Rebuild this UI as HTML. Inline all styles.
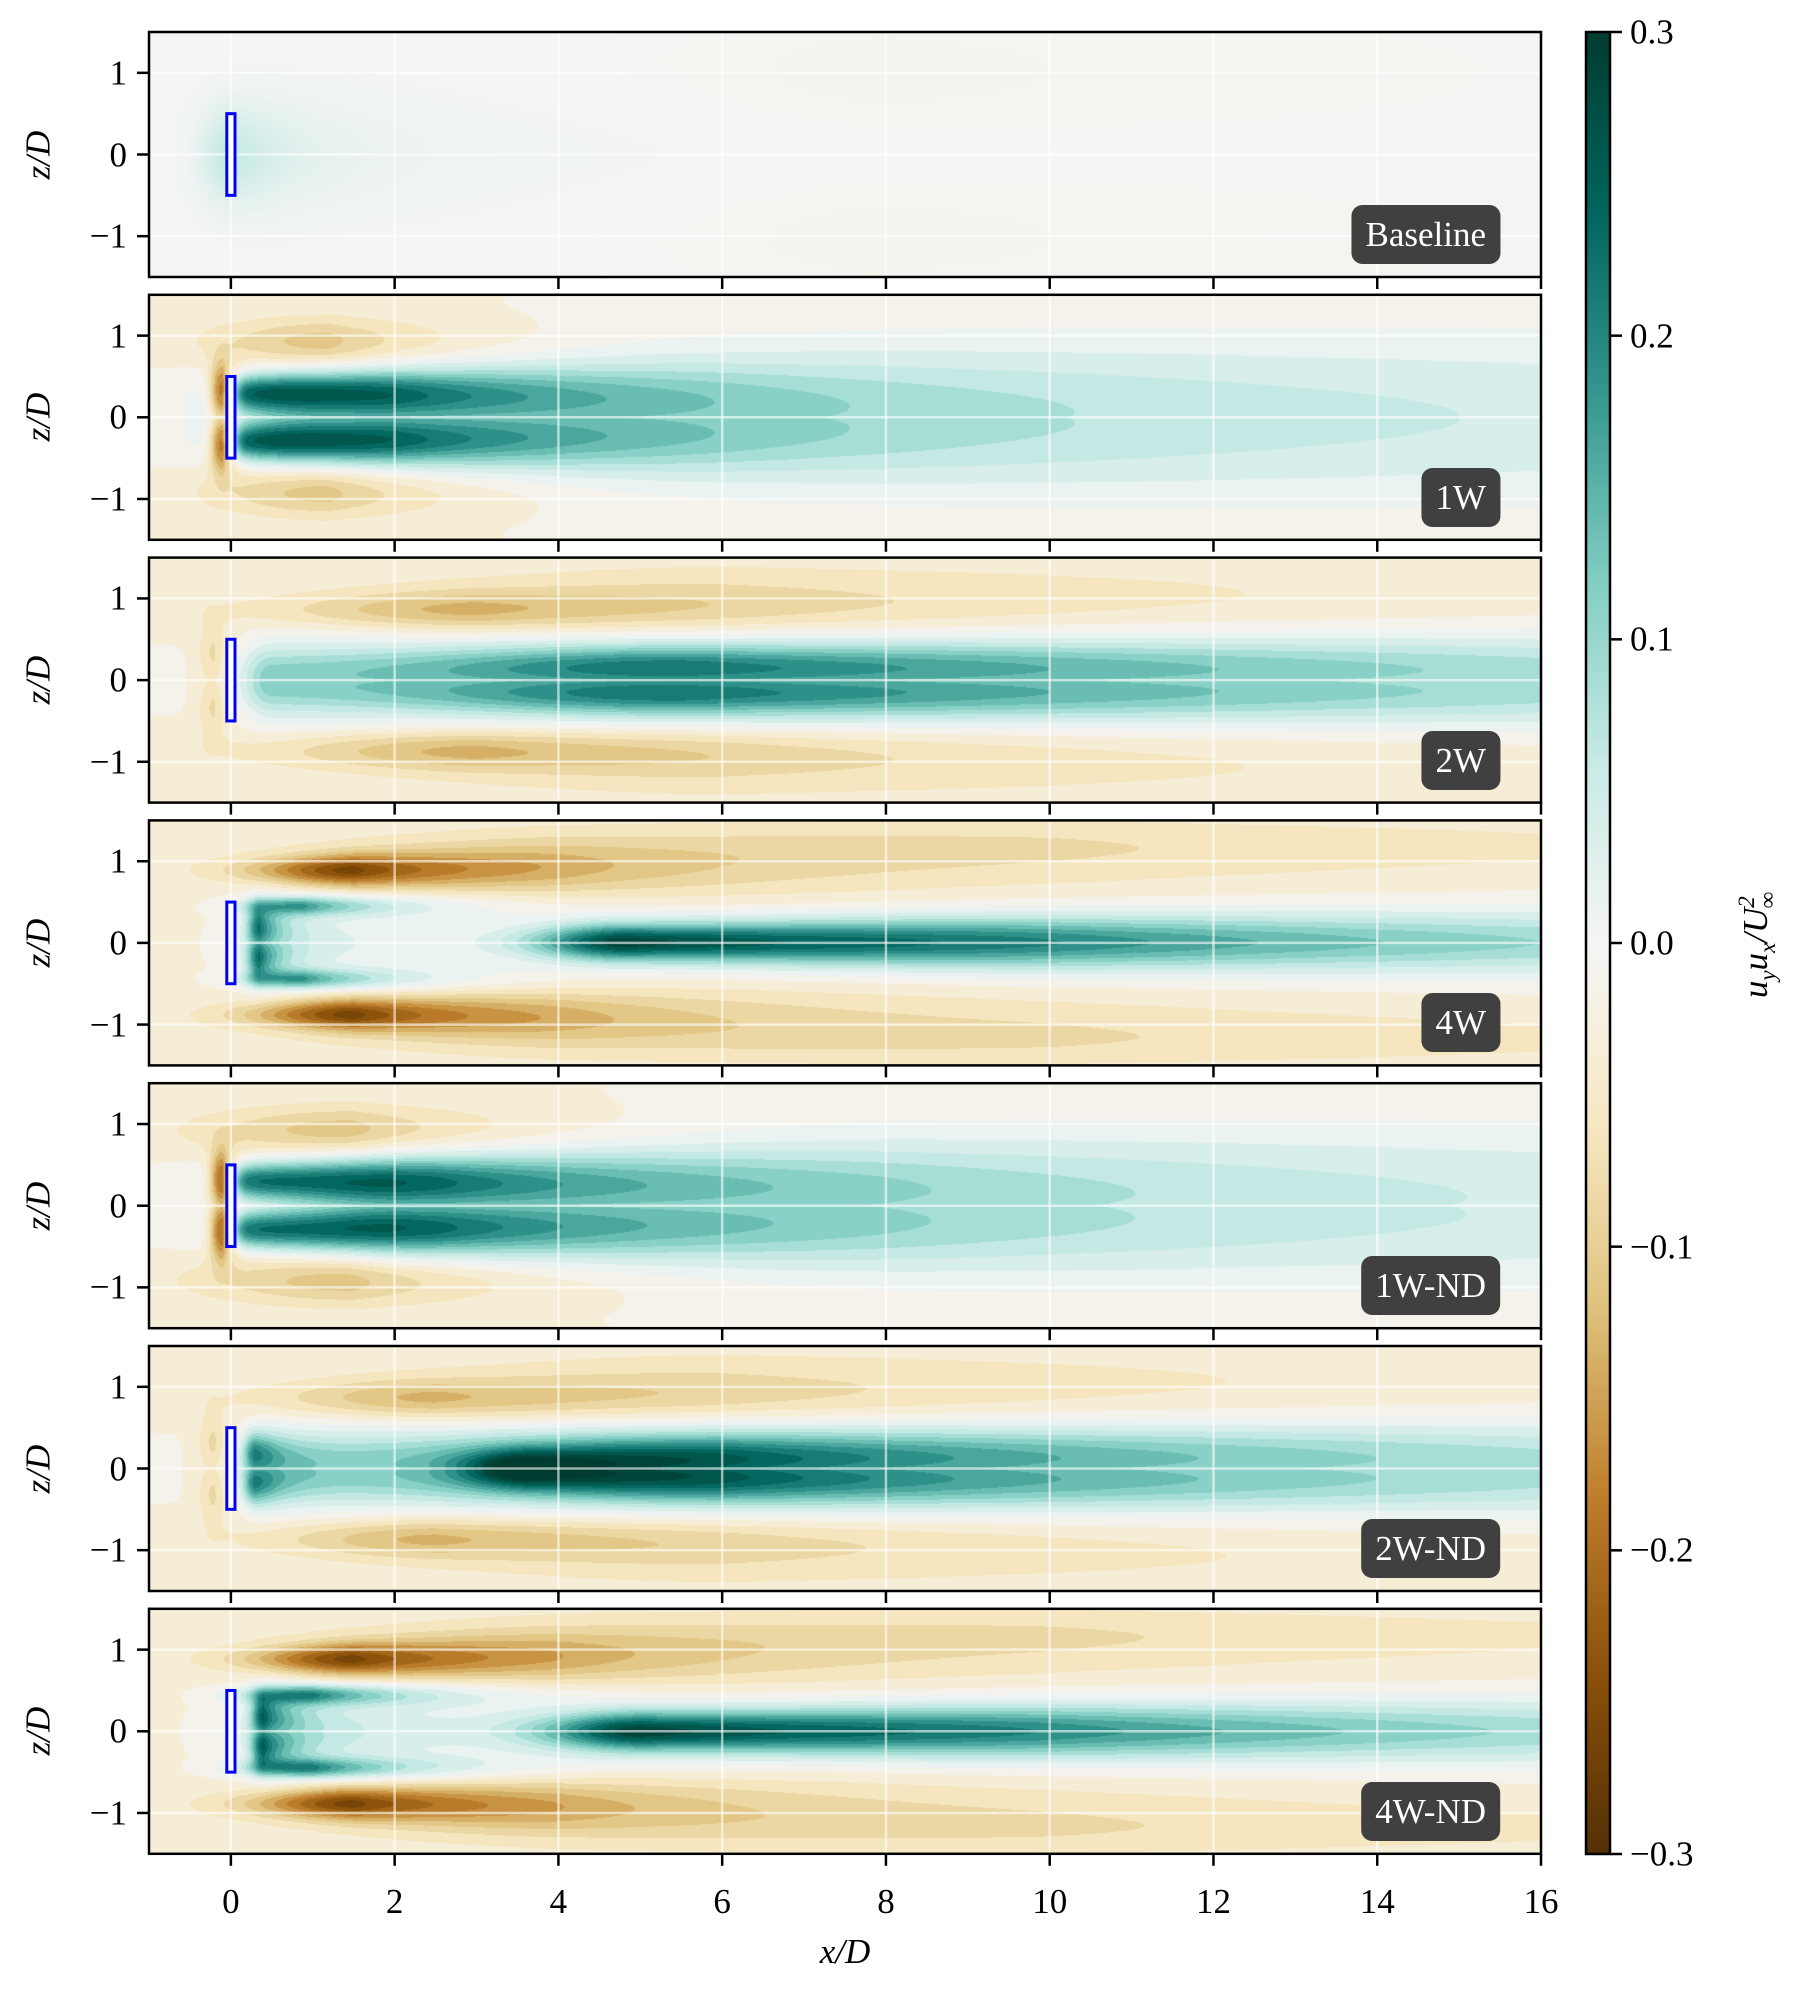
<!DOCTYPE html>
<html><head><meta charset="utf-8">
<style>
body{margin:0;background:#fff;}
#root{position:relative;width:1793px;height:1989px;font-family:"Liberation Serif","DejaVu Serif",serif;color:#000;}
.t{position:absolute;font-size:35px;line-height:1;white-space:nowrap;}
</style></head>
<body>
<div id="root">
<svg id="svg" width="1793" height="1989" style="position:absolute;left:0;top:0"></svg>
</div>
<script>
// ---- data ----
const caseNames = ["Baseline","1W","2W","4W","1W-ND","2W-ND","4W-ND"];
const xTicks = [0,2,4,6,8,10,12,14,16];
const zTicks = [1,0,-1];
const cbTicks = [0.3,0.2,0.1,0.0,-0.1,-0.2,-0.3];
const backgroundLevel = [0.0,-0.03,-0.025,-0.03,-0.03,-0.025,-0.03];
// components per case: [amplitude, zCenter, width0, widthGrowth, xPeak, riseLength, decayLength]
const compBaseline = [[0.06,0,0.55,0.0,0.0,0.35,0.6],[0.012,0,0.9,0.03,0.5,0.8,6],[-0.01,0.9,0.6,0.05,8,4,10]];
const comp1W = [[0.22,0.3,0.22,0.02,0.2,0.25,2.2],[0.08,0.3,0.25,0.02,2,1.5,3],[0.1,0,0.55,0.035,1,1.2,12],[0.06,0,1.0,0.01,6,5,40],[-0.1,0.9,0.3,0.01,1.2,1.4,1.8],[-0.25,0.3,0.35,0,-0.1,0.15,0.15]];
const comp2W = [[0.15,0.18,0.2,0.01,5.5,3,10],[0.14,0,0.45,0.01,0.5,0.4,20],[-0.1,0.85,0.22,0.01,3,2.5,4],[-0.04,1.1,0.35,0.01,6,4,10],[-0.06,0.3,0.4,0,-0.2,0.2,0.2]];
const comp4W = [[0.28,0,0.17,0.012,4.8,1.1,7],[0.1,0,0.3,0.01,10,5,20],[0.18,0.45,0.1,0.02,0.9,0.7,1.2],[0.08,0,0.45,0,0.5,0.5,2],[0.2,0.2,0.28,0,0.35,0.15,0.25],[-0.2,0.88,0.15,0.03,1.5,1.2,1.6],[-0.07,0.95,0.3,0.02,4,3,6],[-0.03,1.2,0.3,0,10,6,10]];
const comp1WND = [[0.22,0.3,0.22,0.02,0.2,0.25,2.2],[0.08,0.3,0.25,0.02,2.5,2,4],[0.1,0.15,0.5,0.02,2,1.5,10],[0.06,0,1.0,0.01,8,6,40],[-0.1,0.9,0.3,0.01,1.5,1.8,2.2],[-0.25,0.3,0.35,0,-0.1,0.15,0.15]];
const comp2WND = [[0.22,0,0.15,0.02,3.6,0.8,2],[0.14,0.18,0.22,0.01,6,3,9],[0.14,0,0.45,0.01,0.5,0.4,20],[0.15,0.2,0.25,0,0.3,0.15,0.3],[-0.1,0.85,0.22,0.01,2.5,2,4],[-0.04,1.1,0.35,0.01,6,4,10],[-0.06,0.3,0.4,0,-0.2,0.2,0.2]];
const comp4WND = [[0.27,0,0.18,0.012,5,1.2,6.5],[0.1,0,0.3,0.01,10,5,20],[0.2,0.45,0.1,0.02,1.0,0.8,1.4],[0.1,0,0.45,0,0.8,0.8,2.5],[0.22,0.2,0.28,0,0.4,0.15,0.3],[-0.2,0.88,0.15,0.03,1.5,1.2,1.8],[-0.07,0.95,0.3,0.02,4,3,6],[-0.03,1.2,0.3,0,10,6,10]];
const caseComps = [compBaseline,comp1W,comp2W,comp4W,comp1WND,comp2WND,comp4WND];

// ---- layout ----
const L=149,R=1541,TOP0=32,PITCH=262.8,H=245;
const X0=-1,X1=16,Z0=-1.5,Z1=1.5;
const sx=x=>L+(x-X0)/(X1-X0)*(R-L);
const sz=(i,z)=>TOP0+i*PITCH+(Z1-z)/(Z1-Z0)*H;
const CBL=1586,CBR=1610,CBT=32,CBB=1854;
const cy=v=>CBT+(0.3-v)/0.6*(CBB-CBT);

const stops=["#543005","#8c510a","#bf812d","#dfc27d","#f6e8c3","#f5f5f5","#c7eae5","#80cdc1","#35978f","#01665e","#003c30"].map(h=>[parseInt(h.substr(1,2),16),parseInt(h.substr(3,2),16),parseInt(h.substr(5,2),16)]);
function cmap(v){let t=(v+0.3)/0.6;t=Math.max(0,Math.min(1,t))*10;const k=Math.min(9,Math.floor(t)),f=t-k;const a=stops[k],b=stops[k+1];return [a[0]+(b[0]-a[0])*f,a[1]+(b[1]-a[1])*f,a[2]+(b[2]-a[2])*f];}
function field(i,x,z){
  let v=backgroundLevel[i];
  for(const c of caseComps[i]){
    const [a,zc,w0,wg,xp,rise,len]=c;
    const xx=Math.max(x,0);
    const w=w0+wg*xx;
    const env = x<xp? Math.exp(-Math.pow((x-xp)/rise,2)) : Math.exp(-(x-xp)/len);
    const dz=Math.abs(z)-zc;
    v+=a*env*Math.exp(-(dz*dz)/(w*w));
  }
  return v;
}
const root=document.getElementById('root');
const svg=document.getElementById('svg');
const NS="http://www.w3.org/2000/svg";
function el(tag,attrs){const e=document.createElementNS(NS,tag);for(const k in attrs)e.setAttribute(k,attrs[k]);svg.appendChild(e);return e;}
function txt(s,x,y,align,extra){const d=document.createElement('div');d.className='t';d.textContent=s;d.style.left=x+'px';d.style.top=y+'px';d.style.transform=align||'';if(extra)Object.assign(d.style,extra);root.appendChild(d);return d;}

const step=0.025;
for(let i=0;i<7;i++){
  const top=TOP0+i*PITCH;
  const cv=document.createElement('canvas');
  const W=Math.round(R-L),HH=Math.round(H);
  cv.width=W;cv.height=HH;cv.style.position='absolute';cv.style.left=L+'px';cv.style.top=top+'px';
  
  
  root.insertBefore(cv,svg);
  const ctx=cv.getContext('2d');const img=ctx.createImageData(W,HH);
  for(let py=0;py<HH;py++){const z=Z1-(py+0.5)/HH*(Z1-Z0);
    for(let px=0;px<W;px++){const x=X0+(px+0.5)/W*(X1-X0);
      let v=field(i,x,z);
      if(i>0) v=(Math.floor(v/step)+0.5)*step;
      const c=cmap(v);const o=(py*W+px)*4;img.data[o]=c[0];img.data[o+1]=c[1];img.data[o+2]=c[2];img.data[o+3]=255;}}
  ctx.putImageData(img,0,0);
  for(const t of xTicks){const g=el('line',{x1:sx(t),x2:sx(t),y1:top,y2:top+H,stroke:'#fff','stroke-opacity':0.6,'stroke-width':2.5});}
  for(const t of zTicks){const g=el('line',{x1:L,x2:R,y1:sz(i,t),y2:sz(i,t),stroke:'#fff','stroke-opacity':0.6,'stroke-width':2.5});}
  const d=el('rect',{x:sx(-0.05),y:sz(i,0.5),width:sx(0.05)-sx(-0.05),height:sz(i,-0.5)-sz(i,0.5),fill:'#fff',stroke:'#0000ff','stroke-width':3});
  
  const fr=el('rect',{x:L,y:top,width:R-L,height:H,fill:'none',stroke:'#000','stroke-width':2.5});
  
  for(const t of xTicks){el('line',{x1:sx(t),x2:sx(t),y1:top+H,y2:top+H+12,stroke:'#000','stroke-width':2.5});}
  for(const t of zTicks){el('line',{x1:L-12,x2:L,y1:sz(i,t),y2:sz(i,t),stroke:'#000','stroke-width':2.5});
    const lab=txt(t<0?'\u2212'+(-t):String(t),L-22,sz(i,t),'translate(-100%,-50%)');
    }
  const yl=txt('z/D',38,top+H/2,'translate(-50%,-50%) rotate(-90deg)',{fontStyle:'italic'});
  
  const lb=txt(caseNames[i],1500,top+H-13,'translate(-100%,-100%)',{background:'#404040',color:'#fff',padding:'12px 14px 12px 14px',borderRadius:'11px',fontSize:'35px'});
  
}
for(const t of xTicks){const l=txt(String(t),sx(t),1884,'translate(-50%,0)');}
const xt=txt('x/D',sx(7.5),1934,'translate(-50%,0)',{fontStyle:'italic'});

const defs=el('defs',{});const lg=document.createElementNS(NS,'linearGradient');lg.setAttribute('id','cbg');lg.setAttribute('x1','0');lg.setAttribute('y1','1');lg.setAttribute('x2','0');lg.setAttribute('y2','0');
stops.forEach((s,k)=>{const st=document.createElementNS(NS,'stop');st.setAttribute('offset',k/10);st.setAttribute('stop-color','rgb('+s.join(',')+')');lg.appendChild(st);});defs.appendChild(lg);
const cb=el('rect',{x:CBL,y:CBT,width:CBR-CBL,height:CBB-CBT,fill:'url(#cbg)',stroke:'#000','stroke-width':2.5});

for(const t of cbTicks){el('line',{x1:CBR,x2:CBR+12,y1:cy(t),y2:cy(t),stroke:'#000','stroke-width':2.5});
  const l=txt((t<0?'\u2212':'')+Math.abs(t).toFixed(1),CBR+20,cy(t),'translate(0,-50%)');
  }
const cl=document.createElement('div');cl.className='t';cl.style.left='1757px';cl.style.top='945px';cl.style.transform='translate(-50%,-50%) rotate(-90deg)';cl.style.fontStyle='italic';
cl.innerHTML='u<sub style="font-size:23px">y</sub>u<sub style="font-size:23px">x</sub>/U<sup style="font-size:23px">2</sup><sub style="font-size:23px;margin-left:-12px">∞</sub>';
root.appendChild(cl);
</script>
</body></html>
